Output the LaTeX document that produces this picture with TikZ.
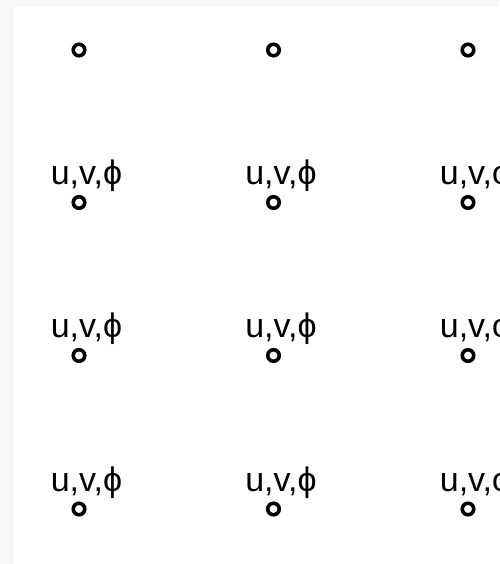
\documentclass[tikz,border=0pt]{standalone}
\usepackage{fontspec}
\setmainfont{Liberation Sans}
\begin{document}
\begin{tikzpicture}[x=1pt,y=-1pt,
  gridpt/.style={circle,draw,line width=3.6pt,minimum size=11.5pt,inner sep=0pt},
  varlbl/.style={font=\fontsize{34}{40}\selectfont,anchor=base,inner sep=0pt}]
\clip (0,0) rectangle (499,564);
\fill[black!3] (0,0) rectangle (499,564);
\fill[white] (14,7) rectangle (499,564);
% top row: points only
\foreach \c/\x in {1/79,2/273.5,3/468}
  \node[gridpt] (p-\c-1) at (\x,50) {};
% lower rows: points with variables
\foreach \c/\x in {1/79,2/273.5,3/468}
  \foreach \r/\y in {2/202.5,3/355.5,4/509} {
    \node[gridpt] (p-\c-\r) at (\x,\y) {};
    \node[varlbl] (l-\c-\r) at (\x+7.5,\y-18) {u,v,ϕ};
  }
\end{tikzpicture}
\end{document}
